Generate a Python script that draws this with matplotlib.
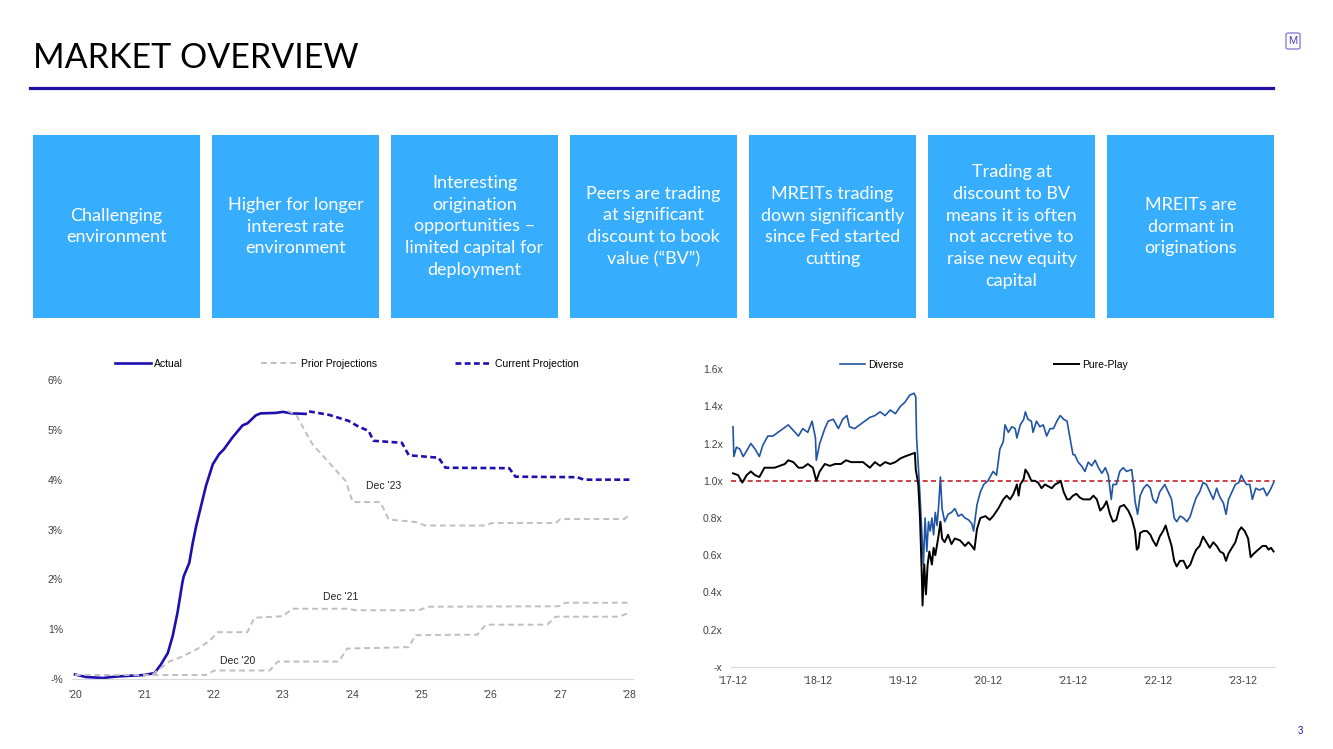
import matplotlib
matplotlib.use('Agg')
import matplotlib.pyplot as plt
from matplotlib.patches import Rectangle, FancyBboxPatch
from matplotlib.lines import Line2D
from matplotlib import font_manager

# ---- data ----
box_texts = [
    "Challenging\nenvironment",
    "Higher for longer\ninterest rate\nenvironment",
    "Interesting\norigination\nopportunities \u2013\nlimited capital for\ndeployment",
    "Peers are trading\nat significant\ndiscount to book\nvalue (\u201cBV\u201d)",
    "MREITs trading\ndown significantly\nsince Fed started\ncutting",
    "Trading at\ndiscount to BV\nmeans it is often\nnot accretive to\nraise new equity\ncapital",
    "MREITs are\ndormant in\noriginations",
]

# left chart: policy rate path (years, %)
actual_t = [2020.0, 2020.16, 2020.4, 2020.6, 2021.0, 2021.15, 2021.24, 2021.34, 2021.41, 2021.48,
            2021.55, 2021.57, 2021.65, 2021.70, 2021.75, 2021.89, 2021.99, 2022.08, 2022.15, 2022.27,
            2022.42, 2022.49, 2022.61, 2022.68, 2022.9, 2023.0, 2023.14, 2023.33]
actual_v = [0.09, 0.04, 0.02, 0.05, 0.08, 0.12, 0.29, 0.52, 0.86, 1.33,
            1.93, 2.06, 2.33, 2.73, 3.07, 3.87, 4.31, 4.51, 4.61, 4.84,
            5.09, 5.13, 5.29, 5.33, 5.34, 5.36, 5.33, 5.32]

current_t = [2023.38, 2023.67, 2023.95, 2024.1, 2024.24, 2024.31, 2024.72, 2024.82, 2025.25, 2025.35,
             2026.27, 2026.36, 2027.25, 2027.35, 2028.02]
current_v = [5.37, 5.30, 5.18, 5.06, 4.98, 4.78, 4.74, 4.49, 4.44, 4.24,
             4.23, 4.06, 4.05, 4.00, 4.00]

dec23_t = [2023.07, 2023.19, 2023.36, 2023.43, 2023.67, 2023.91, 2024.01, 2024.41, 2024.53, 2024.92,
           2025.06, 2025.93, 2026.02, 2026.94, 2027.01, 2027.93, 2028.02]
dec23_v = [5.38, 5.31, 4.88, 4.71, 4.34, 3.97, 3.55, 3.55, 3.20, 3.15,
           3.08, 3.08, 3.13, 3.13, 3.21, 3.21, 3.30]

dec21_t = [2021.12, 2021.36, 2021.53, 2021.75, 2021.94, 2022.06, 2022.49, 2022.59, 2023.0, 2023.14,
           2023.95, 2024.05, 2024.96, 2025.11, 2026.99, 2027.08, 2028.0]
dec21_v = [0.09, 0.35, 0.44, 0.59, 0.76, 0.94, 0.94, 1.23, 1.26, 1.41,
           1.41, 1.38, 1.38, 1.45, 1.46, 1.53, 1.53]

dec20_t = [2020.0, 2021.89, 2022.01, 2022.81, 2022.93, 2023.81, 2023.93, 2024.82, 2024.92, 2025.81,
           2025.93, 2026.82, 2026.94, 2027.86, 2028.0]
dec20_v = [0.08, 0.08, 0.17, 0.17, 0.35, 0.35, 0.61, 0.64, 0.88, 0.89,
           1.09, 1.09, 1.25, 1.25, 1.33]

left_xticks = [2020, 2021, 2022, 2023, 2024, 2025, 2026, 2027, 2028]
left_xlabels = ["'20", "'21", "'22", "'23", "'24", "'25", "'26", "'27", "'28"]
left_yticks = [0, 1, 2, 3, 4, 5, 6]
left_ylabels = ['-%', '1%', '2%', '3%', '4%', '5%', '6%']

# right chart: price / book value (years, x)
diverse_t = [
    2017.92, 2017.93, 2017.96, 2018.00, 2018.04, 2018.08, 2018.13, 2018.18, 2018.23, 2018.27,
    2018.33, 2018.39, 2018.45, 2018.51, 2018.57, 2018.63, 2018.69, 2018.74, 2018.80, 2018.85,
    2018.89, 2018.90, 2018.94, 2019.00, 2019.04, 2019.10, 2019.16, 2019.21, 2019.26, 2019.29,
    2019.35, 2019.41, 2019.47, 2019.53, 2019.59, 2019.65, 2019.71, 2019.77, 2019.83, 2019.89,
    2019.94, 2020.00, 2020.05, 2020.07, 2020.08, 2020.10, 2020.12, 2020.15, 2020.16, 2020.18,
    2020.20, 2020.22, 2020.24, 2020.26, 2020.28, 2020.30, 2020.32, 2020.34, 2020.36, 2020.38,
    2020.41, 2020.45, 2020.49, 2020.53, 2020.57, 2020.61, 2020.65, 2020.69, 2020.73, 2020.75,
    2020.79, 2020.83, 2020.87, 2020.92, 2020.98, 2021.02, 2021.06, 2021.10, 2021.12, 2021.16,
    2021.20, 2021.24, 2021.26, 2021.30, 2021.34, 2021.36, 2021.39, 2021.43, 2021.45, 2021.49,
    2021.53, 2021.57, 2021.61, 2021.65, 2021.69, 2021.73, 2021.77, 2021.81, 2021.85, 2021.88,
    2021.90, 2021.92, 2021.94, 2021.98, 2022.02, 2022.06, 2022.10, 2022.14, 2022.18, 2022.22,
    2022.26, 2022.30, 2022.335, 2022.37, 2022.39, 2022.43, 2022.47, 2022.51, 2022.55, 2022.61,
    2022.63, 2022.65, 2022.68, 2022.71, 2022.75, 2022.79, 2022.83, 2022.86, 2022.90, 2022.94,
    2023.00, 2023.04, 2023.08, 2023.11, 2023.14, 2023.18, 2023.22, 2023.26, 2023.30, 2023.34,
    2023.37, 2023.41, 2023.45, 2023.49, 2023.53, 2023.57, 2023.61, 2023.65, 2023.69, 2023.72,
    2023.75, 2023.79, 2023.83, 2023.87, 2023.90, 2023.92, 2023.96, 2024.00, 2024.03, 2024.07,
    2024.11, 2024.16, 2024.20, 2024.24, 2024.28]
diverse_v = [
    1.29, 1.13, 1.18, 1.17, 1.13, 1.16, 1.20, 1.17, 1.13, 1.19,
    1.24, 1.24, 1.26, 1.28, 1.30, 1.27, 1.24, 1.28, 1.26, 1.32,
    1.23, 1.11, 1.20, 1.28, 1.32, 1.33, 1.28, 1.33, 1.35, 1.29,
    1.28, 1.30, 1.32, 1.34, 1.35, 1.37, 1.35, 1.38, 1.36, 1.40,
    1.42, 1.46, 1.47, 1.45, 1.23, 1.08, 0.92, 0.65, 0.55, 0.80,
    0.62, 0.78, 0.73, 0.80, 0.71, 0.83, 0.76, 0.87, 1.02, 0.85,
    0.78, 0.82, 0.83, 0.85, 0.81, 0.82, 0.80, 0.79, 0.77, 0.73,
    0.87, 0.94, 0.98, 1.00, 1.05, 1.03, 1.17, 1.21, 1.30, 1.26,
    1.29, 1.28, 1.23, 1.30, 1.33, 1.37, 1.33, 1.32, 1.26, 1.32,
    1.29, 1.30, 1.24, 1.28, 1.28, 1.32, 1.35, 1.33, 1.32, 1.24,
    1.19, 1.14, 1.14, 1.10, 1.08, 1.05, 1.10, 1.08, 1.11, 1.07,
    1.04, 1.07, 1.03, 0.90, 0.98, 0.98, 1.05, 1.07, 1.05, 1.06,
    0.99, 0.89, 0.82, 0.92, 0.96, 0.98, 0.96, 0.90, 0.88, 0.94,
    0.98, 0.94, 0.90, 0.80, 0.78, 0.81, 0.80, 0.78, 0.81, 0.87,
    0.91, 0.94, 0.99, 0.98, 0.94, 0.90, 0.96, 0.91, 0.88, 0.82,
    0.90, 0.94, 0.98, 0.99, 1.03, 1.01, 0.98, 0.98, 0.90, 0.96,
    0.95, 0.96, 0.92, 0.95, 0.99]

pureplay_t = [
    2017.92, 2017.98, 2018.03, 2018.08, 2018.13, 2018.18, 2018.23, 2018.29, 2018.35, 2018.41,
    2018.47, 2018.53, 2018.57, 2018.63, 2018.69, 2018.74, 2018.80, 2018.86, 2018.90, 2018.94,
    2019.00, 2019.06, 2019.12, 2019.19, 2019.25, 2019.31, 2019.37, 2019.45, 2019.53, 2019.59,
    2019.65, 2019.71, 2019.77, 2019.83, 2019.89, 2019.94, 2020.00, 2020.06, 2020.07, 2020.10,
    2020.12, 2020.14, 2020.15, 2020.17, 2020.19, 2020.21, 2020.23, 2020.26, 2020.28, 2020.30,
    2020.34, 2020.36, 2020.38, 2020.41, 2020.45, 2020.49, 2020.53, 2020.59, 2020.65, 2020.69,
    2020.73, 2020.76, 2020.79, 2020.83, 2020.89, 2020.94, 2020.98, 2021.04, 2021.10, 2021.14,
    2021.18, 2021.22, 2021.26, 2021.28, 2021.30, 2021.34, 2021.36, 2021.39, 2021.43, 2021.47,
    2021.51, 2021.55, 2021.59, 2021.63, 2021.67, 2021.71, 2021.75, 2021.775, 2021.81, 2021.85,
    2021.88, 2021.92, 2021.96, 2022.00, 2022.04, 2022.08, 2022.12, 2022.16, 2022.20, 2022.24,
    2022.28, 2022.315, 2022.355, 2022.39, 2022.43, 2022.47, 2022.52, 2022.57, 2022.61, 2022.65,
    2022.67, 2022.69, 2022.71, 2022.75, 2022.79, 2022.83, 2022.86, 2022.90, 2022.94, 2022.98,
    2023.01, 2023.04, 2023.08, 2023.11, 2023.14, 2023.18, 2023.22, 2023.26, 2023.30, 2023.34,
    2023.37, 2023.41, 2023.45, 2023.49, 2023.53, 2023.57, 2023.61, 2023.65, 2023.69, 2023.72,
    2023.75, 2023.79, 2023.83, 2023.87, 2023.90, 2023.94, 2023.98, 2024.01, 2024.05, 2024.10,
    2024.15, 2024.19, 2024.22, 2024.25, 2024.28]
pureplay_v = [
    1.04, 1.03, 0.99, 1.03, 1.05, 1.03, 1.02, 1.07, 1.07, 1.07,
    1.08, 1.09, 1.11, 1.10, 1.07, 1.07, 1.09, 1.07, 1.00, 1.05,
    1.09, 1.08, 1.09, 1.09, 1.11, 1.10, 1.10, 1.10, 1.07, 1.10,
    1.08, 1.10, 1.09, 1.10, 1.12, 1.13, 1.14, 1.15, 1.06, 0.98,
    0.80, 0.51, 0.33, 0.55, 0.39, 0.55, 0.62, 0.55, 0.64, 0.60,
    0.71, 0.78, 0.69, 0.67, 0.71, 0.66, 0.69, 0.68, 0.65, 0.67,
    0.65, 0.63, 0.74, 0.80, 0.81, 0.79, 0.81, 0.85, 0.90, 0.92,
    0.90, 0.93, 0.98, 0.92, 0.98, 1.01, 1.06, 1.04, 1.00, 1.00,
    0.99, 0.96, 0.98, 0.97, 0.96, 0.98, 0.99, 1.00, 0.94, 0.90,
    0.90, 0.92, 0.93, 0.91, 0.90, 0.90, 0.90, 0.92, 0.90, 0.84,
    0.86, 0.89, 0.82, 0.78, 0.79, 0.86, 0.87, 0.84, 0.80, 0.73,
    0.63, 0.64, 0.72, 0.73, 0.73, 0.71, 0.68, 0.65, 0.70, 0.73,
    0.76, 0.71, 0.65, 0.57, 0.54, 0.57, 0.57, 0.53, 0.55, 0.60,
    0.63, 0.65, 0.70, 0.67, 0.64, 0.67, 0.65, 0.62, 0.61, 0.57,
    0.61, 0.64, 0.67, 0.73, 0.75, 0.73, 0.69, 0.59, 0.61, 0.63,
    0.65, 0.65, 0.63, 0.64, 0.62]

right_xticks = [2017.92, 2018.92, 2019.92, 2020.92, 2021.92, 2022.92, 2023.92]
right_xlabels = ["'17-12", "'18-12", "'19-12", "'20-12", "'21-12", "'22-12", "'23-12"]
right_yticks = [0, 0.2, 0.4, 0.6, 0.8, 1.0, 1.2, 1.4, 1.6]
right_ylabels = ['-x', '0.2x', '0.4x', '0.6x', '0.8x', '1.0x', '1.2x', '1.4x', '1.6x']

# ---- fonts ----
installed = {f.name for f in font_manager.fontManager.ttflist}


def pick(*names):
    for n in names:
        if n in installed:
            return n
    return 'DejaVu Sans'


title_font = pick('Liberation Sans Narrow', 'Lato')
box_font = pick('Lato', 'Open Sans')
chart_font = pick('Liberation Sans', 'Arial')
plt.rcParams['font.family'] = chart_font

W, H = 1333, 749
fig = plt.figure(figsize=(W / 100, H / 100), dpi=100)


def rect(x0, y0, x1, y1):
    return [x0 / W, 1 - y1 / H, (x1 - x0) / W, (y1 - y0) / H]


# ---- header ----
fig.text(33 / W, 1 - 68 / H, 'MARKET OVERVIEW', family=title_font, fontweight='normal',
         fontsize=29 if title_font == 'Liberation Sans Narrow' else 24.5, va='baseline', color='black')
fig.add_artist(Line2D([30 / W, 1273 / W], [1 - 88 / H] * 2, color='#2011A8', lw=2.3))
fig.add_artist(FancyBboxPatch((1286 / W, 1 - 49 / H), 14 / W, 16 / H,
                              boxstyle='round,pad=0,rounding_size=0.002', transform=fig.transFigure,
                              fc='white', ec='#8C80D8', lw=1))
fig.text(1293 / W, 1 - 41 / H, 'M', fontsize=8, color='#4B3DB5', ha='center', va='center')
fig.text(1300 / W, 1 - 731 / H, '3', fontsize=7, color='#2011A8', ha='center', va='center')

# ---- boxes ----
box_x = [33, 212, 391, 570, 749, 928, 1107]
for bx, txt in zip(box_x, box_texts):
    fig.add_artist(Rectangle((bx / W, 1 - 318 / H), 167 / W, 183 / H, transform=fig.transFigure,
                             fc='#37AEFD', ec='none'))
    fig.text((bx + 83.5) / W, 1 - 226.5 / H, txt, family=box_font, fontsize=13, color='white',
             ha='center', va='center', multialignment='center', linespacing=1.45)

grey_txt = '#404040'

# ---- left chart ----
ax1 = fig.add_axes(rect(72, 380, 633, 679))
ax1.plot(actual_t, actual_v, color='#1E0FB0', lw=1.9, label='Actual')
ax1.plot(dec20_t, dec20_v, color='#BFBFBF', lw=1.4, ls=(0, (3, 2)), label='Prior Projections')
ax1.plot(dec21_t, dec21_v, color='#BFBFBF', lw=1.4, ls=(0, (3, 2)))
ax1.plot(dec23_t, dec23_v, color='#BFBFBF', lw=1.4, ls=(0, (3, 2)))
ax1.plot(current_t, current_v, color='#1E0FB0', lw=1.9, ls=(0, (2.2, 1.3)), label='Current Projection')
ax1.set_xlim(2020 - 3 / 69.25, 2028 + 4 / 69.25)
ax1.set_ylim(0, 6)
ax1.set_xticks(left_xticks, left_xlabels)
ax1.set_yticks(left_yticks, left_ylabels)
ax1.text(2024.45, 3.88, "Dec '23", fontsize=7.5, ha='center', va='center', color='#222222')
ax1.text(2023.83, 1.65, "Dec '21", fontsize=7.5, ha='center', va='center', color='#222222')
ax1.text(2022.35, 0.36, "Dec '20", fontsize=7.5, ha='center', va='center', color='#222222')
ax1.legend(loc='center', bbox_to_anchor=(346.5 / W, 1 - 364 / H), bbox_transform=fig.transFigure,
           ncol=3, frameon=False, fontsize=7.5, handlelength=3.5, handletextpad=0.3, columnspacing=7.5)

# ---- right chart ----
ax2 = fig.add_axes(rect(731, 369, 1275, 667))
ax2.axhline(1.0, color='#C8202A', lw=1.2, ls=(0, (3, 2)))
ax2.plot(diverse_t, diverse_v, color='#2155A3', lw=1.2, label='Diverse')
ax2.plot(pureplay_t, pureplay_v, color='black', lw=1.4, label='Pure-Play')
ax2.set_xlim(2017.92 - 2 / 85, 2017.92 + 542 / 85)
ax2.set_ylim(0, 1.6)
ax2.set_xticks(right_xticks, right_xlabels)
ax2.set_yticks(right_yticks, right_ylabels)
ax2.legend(loc='center', bbox_to_anchor=(984 / W, 1 - 365 / H), bbox_transform=fig.transFigure,
           ncol=2, frameon=False, fontsize=7.5, handlelength=2.4, handletextpad=0.3, columnspacing=14.4)

for ax in (ax1, ax2):
    for s in ('top', 'right', 'left'):
        ax.spines[s].set_visible(False)
    ax.spines['bottom'].set_color('#D9D9D9')
    ax.tick_params(length=0, labelsize=7.5, colors=grey_txt)
    ax.patch.set_alpha(0)
ax1.tick_params(axis='y', pad=6.5)
ax1.tick_params(axis='x', pad=8)
ax2.tick_params(axis='y', pad=6)
ax2.tick_params(axis='x', pad=6.5)

fig.savefig('out.png', dpi=100)
